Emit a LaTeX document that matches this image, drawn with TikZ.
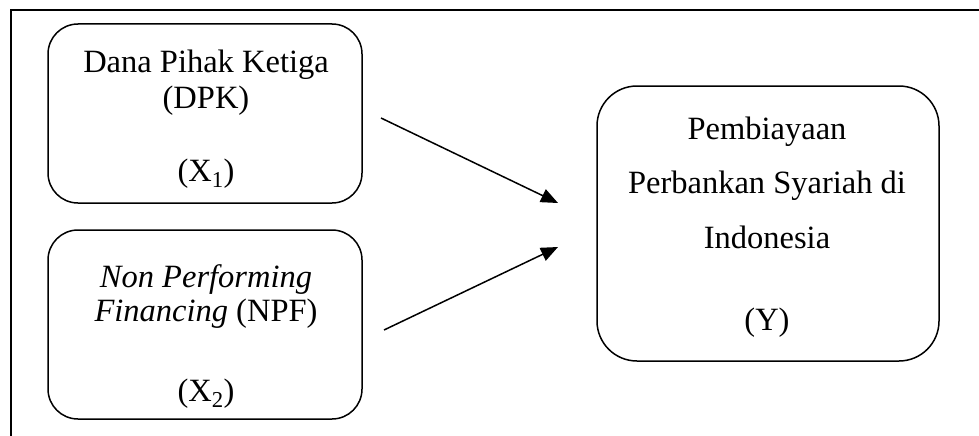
\documentclass[tikz,border=0pt]{standalone}
\usepackage{fontspec}
\setmainfont{Liberation Serif}
\usetikzlibrary{arrows.meta}

\tikzset{
    varbox/.style={draw, line width=1.5pt, rounded corners=30pt, inner sep=0pt},
    txt/.style={anchor=base, inner sep=0pt, font=\fontsize{32.5}{38}\selectfont},
    link/.style={line width=1.5pt, -{Triangle[length=17pt,width=14pt]}}
}

\begin{document}
\begin{tikzpicture}[x=1pt,y=-1pt]
    \useasboundingbox (0,0) rectangle (979,436);

    % Frame (top and left only)
    \draw[line width=2.2pt] (979,10) -- (11,10) -- (11,436);

    % Variable boxes
    \node[varbox, minimum width=314pt, minimum height=179pt] (dpk) at (205,113.5) {};
    \node[varbox, minimum width=314pt, minimum height=189pt] (npf) at (205,324.5) {};
    \node[varbox, rounded corners=40pt, minimum width=342pt, minimum height=275pt] (pby) at (768,223.5) {};

    % Texts of X1
    \node[txt] (dpk1) at (206,72) {Dana Pihak Ketiga};
    \node[txt] (dpk2) at (206,108) {(DPK)};
    \node[txt] (dpk3) at (206,181) {(X\textsubscript{1})};

    % Texts of X2
    \node[txt] (npf1) at (206,287) {\itshape Non Performing};
    \node[txt] (npf2) at (206,321) {\textit{Financing} (NPF)};
    \node[txt] (npf3) at (206,401) {(X\textsubscript{2})};

    % Texts of Y
    \node[txt] (pby1) at (767,139) {Pembiayaan};
    \node[txt] (pby2) at (767,193) {Perbankan Syariah di};
    \node[txt] (pby3) at (767,248) {Indonesia};
    \node[txt] (pby4) at (767,330) {(Y)};

    % Arrows
    \coordinate (s1) at (381,118);
    \coordinate (e1) at (558,203);
    \coordinate (s2) at (384,330);
    \coordinate (e2) at (558,247);
    \draw[link] (s1) -- (e1);
    \draw[link] (s2) -- (e2);

\end{tikzpicture}
\end{document}
